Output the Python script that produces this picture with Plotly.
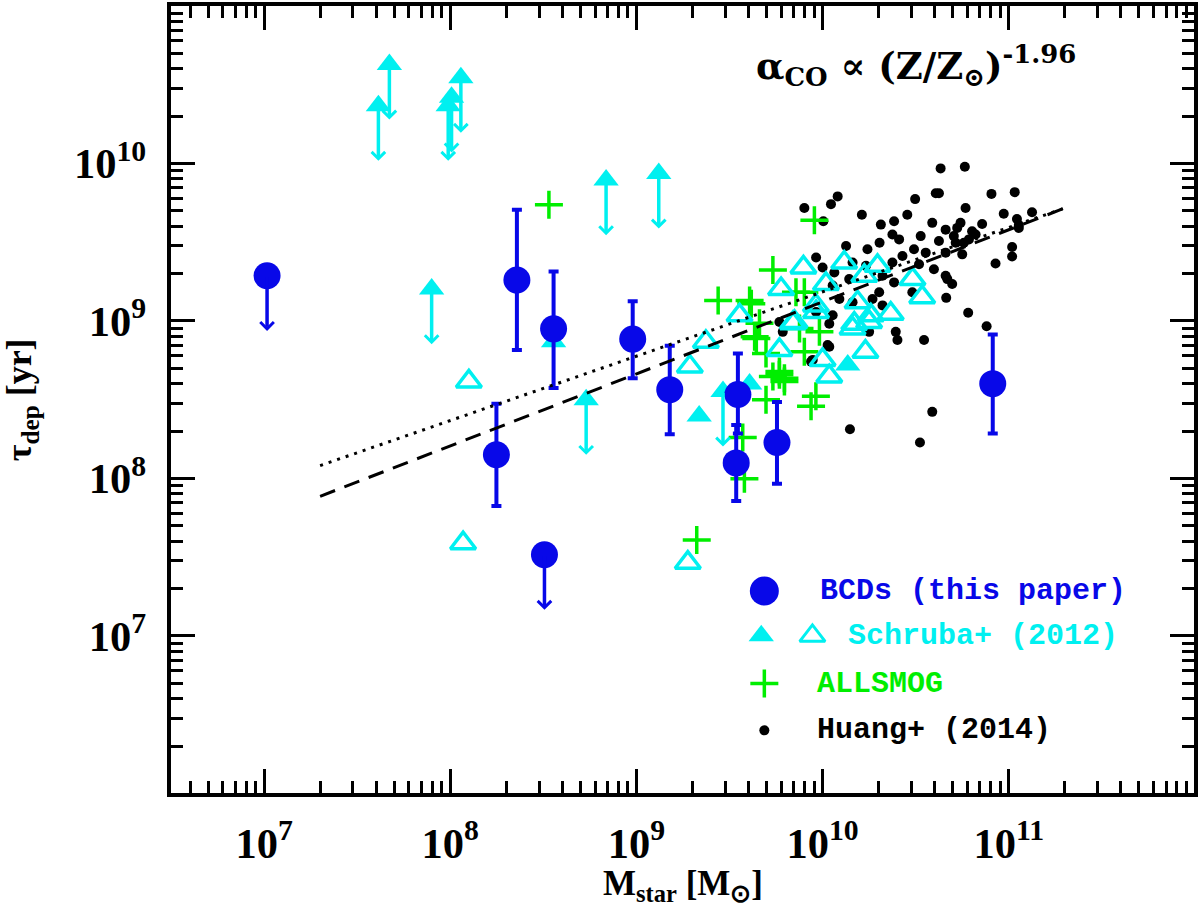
import numpy as np
import plotly.graph_objects as go

# values, stored as log10(M_star / Msun) and log10(tau_dep / yr)
bcd_logm = [8.358, 8.555, 8.980, 8.248, 9.179, 9.545, 9.536, 9.755, 10.914]
bcd_logt = [9.260, 8.950, 8.885, 8.151, 8.564, 8.533, 8.099, 8.228, 8.602]
bcd_logt_hi = [9.706, 9.314, 9.126, 8.474, 8.843, 8.794, 8.340, 8.486, 8.914]
bcd_logt_lo = [8.816, 8.574, 8.637, 7.826, 8.281, 8.286, 7.857, 7.967, 8.285]
bcd_lim_logm = [7.016, 8.506]
bcd_lim_logt = [9.287, 7.516]

sch_lim_logm = [7.614, 7.673, 8.057, 8.007, 7.989, 8.837, 9.120, 7.900, 8.730, 9.465]
sch_lim_logt = [10.367, 10.629, 10.545, 10.420, 10.367, 9.895, 9.937, 9.203, 8.500, 8.553]
sch_det_logm = [9.337, 10.135, 9.608, 8.555]
sch_det_logt = [8.396, 8.720, 8.600, 8.868]
sch_open_logm = [8.100, 8.069, 9.276, 9.287, 9.373, 9.554, 9.777, 9.768, 9.840, 9.897,
                 9.964, 10.000, 10.036, 10.018, 10.116, 10.188, 10.170, 10.250, 10.230,
                 10.295, 10.366, 10.483, 10.535, 10.224, 9.965, 10.259, 9.849, 10.161]
sch_open_logt = [8.616, 7.589, 7.465, 8.711, 8.868, 9.036, 9.203, 8.816, 8.986, 9.340,
                 9.098, 8.753, 8.648, 9.235, 9.371, 9.119, 8.983, 8.994, 8.805,
                 9.350, 9.046, 9.266, 9.151, 9.287, 9.057, 9.036, 8.994, 8.952]

allsmog_logm = [8.530, 9.956, 9.733, 9.608, 9.857, 9.644, 9.902, 9.983, 9.439, 9.617,
                9.661, 9.635, 9.696, 9.768, 9.795, 9.733, 9.795, 9.696, 9.964, 9.938,
                9.571, 9.580, 9.324, 9.902, 9.876, 9.768]
allsmog_logt = [9.738, 9.640, 9.323, 9.130, 9.182, 8.889, 8.805, 8.931, 9.130, 9.109,
                8.986, 8.900, 8.794, 8.658, 8.637, 8.648, 8.616, 8.500, 8.522, 8.459,
                8.260, 7.998, 7.610, 9.182, 8.952, 8.679]

huang_logm = [10.634, 10.764, 10.081, 10.045, 9.902, 10.004, 10.497, 10.608, 10.907, 11.032,
              10.211, 10.313, 10.384, 10.455, 10.768, 10.973, 11.125, 11.054, 10.857, 10.589,
              10.661, 10.723, 10.803, 10.375, 10.411, 10.527, 10.625, 10.715, 10.786, 10.306,
              10.241, 10.126, 10.491, 10.554, 10.661, 11.018, 11.018, 10.929, 10.429, 10.375,
              9.965, 10.000, 10.063, 10.161, 10.233, 10.518, 10.598, 10.670, 10.696, 10.322,
              10.384, 10.143, 10.054, 10.090, 10.161, 10.268, 10.322, 10.304, 10.482, 10.664,
              10.782, 10.881, 10.402, 10.545, 10.036, 10.027, 9.938, 9.786, 9.768, 10.393,
              10.250, 9.965, 10.054, 10.589, 10.147, 10.523, 10.625, 10.741, 10.705, 10.822,
              10.759, 10.750, 10.661, 10.036, 9.947, 11.044, 11.054]
huang_logt = [9.969, 9.979, 9.791, 9.742, 9.717, 9.633, 9.774, 9.811, 9.807, 9.818,
              9.675, 9.612, 9.633, 9.675, 9.717, 9.681, 9.690, 9.610, 9.616, 9.623,
              9.580, 9.591, 9.570, 9.549, 9.518, 9.539, 9.508, 9.497, 9.518, 9.497,
              9.455, 9.476, 9.455, 9.434, 9.434, 9.470, 9.409, 9.365, 9.413, 9.371,
              9.403, 9.340, 9.308, 9.371, 9.350, 9.360, 9.329, 9.266, 9.235, 9.287,
              9.245, 9.266, 9.225, 9.140, 9.119, 9.140, 9.099, 9.182, 9.182, 9.147,
              9.052, 8.967, 8.879, 8.879, 8.983, 8.847, 8.742, 8.931, 8.994, 8.931,
              8.931, 9.057, 9.036, 8.423, 8.313, 8.228, 9.811, 9.623, 9.539, 9.549,
              9.497, 9.423, 9.287, 8.836, 8.753, 9.648, 9.591]

# the two scaling relations
rel_logm = [7.301, 11.301]
rel_dotted_logt = [8.082, 9.717]
rel_dashed_logt = [7.887, 9.717]

BLUE = '#0808E8'
CYAN = '#00F0F0'
GREEN = '#00EE00'
ARROW_DEX = 0.35

def lin(v):
    return 10 ** np.array(v)

fig = go.Figure()

fig.add_scatter(x=lin(huang_logm), y=lin(huang_logt), mode='markers',
                marker=dict(symbol='circle', size=10, color='black'))
fig.add_scatter(x=lin(allsmog_logm), y=lin(allsmog_logt), mode='markers',
                marker=dict(symbol='cross-thin', size=20, line=dict(color=GREEN, width=3.5)))
fig.add_scatter(x=lin(sch_open_logm), y=lin(sch_open_logt), mode='markers',
                marker=dict(symbol='triangle-up-open', size=22, color=CYAN, line=dict(color=CYAN, width=3.5)))
fig.add_scatter(x=lin(sch_det_logm), y=lin(sch_det_logt), mode='markers',
                marker=dict(symbol='triangle-up', size=22, color=CYAN))
fig.add_scatter(x=lin(sch_lim_logm), y=lin(sch_lim_logt), mode='markers',
                marker=dict(symbol='triangle-up', size=22, color=CYAN))

t = lin(bcd_logt)
fig.add_scatter(x=lin(bcd_logm), y=t, mode='markers',
                marker=dict(symbol='circle', size=27, color=BLUE),
                error_y=dict(type='data', symmetric=False,
                             array=lin(bcd_logt_hi) - t, arrayminus=t - lin(bcd_logt_lo),
                             color=BLUE, thickness=4, width=5))
fig.add_scatter(x=lin(bcd_lim_logm), y=lin(bcd_lim_logt), mode='markers',
                marker=dict(symbol='circle', size=27, color=BLUE))

fig.add_scatter(x=lin(rel_logm), y=lin(rel_dotted_logt), mode='lines',
                line=dict(color='black', width=3, dash='3px,6px'))
fig.add_scatter(x=lin(rel_logm), y=lin(rel_dashed_logt), mode='lines',
                line=dict(color='black', width=3, dash='16px,10px'))

# upper-limit arrows (log axes: annotation coordinates are log10)
for xs, ys, col in [(sch_lim_logm, sch_lim_logt, CYAN), (bcd_lim_logm, bcd_lim_logt, BLUE)]:
    for xv, yv in zip(xs, ys):
        fig.add_annotation(x=xv, y=yv - ARROW_DEX, ax=xv, ay=yv, xref='x', yref='y',
                           axref='x', ayref='y', text='', showarrow=True,
                           arrowhead=4, arrowsize=0.75, arrowwidth=3.5, arrowcolor=col)

# legend drawn by hand on an overlay in paper units
fig.add_scatter(x=[0.580], y=[0.2566], xaxis='x2', yaxis='y2', mode='markers',
                marker=dict(symbol='circle', size=29, color=BLUE))
fig.add_scatter(x=[0.577], y=[0.1997], xaxis='x2', yaxis='y2', mode='markers',
                marker=dict(symbol='triangle-up', size=22, color=CYAN))
fig.add_scatter(x=[0.627], y=[0.1997], xaxis='x2', yaxis='y2', mode='markers',
                marker=dict(symbol='triangle-up-open', size=22, color=CYAN, line=dict(color=CYAN, width=3)))
fig.add_scatter(x=[0.580], y=[0.1391], xaxis='x2', yaxis='y2', mode='markers',
                marker=dict(symbol='cross-thin', size=20, line=dict(color=GREEN, width=3.5)))
fig.add_scatter(x=[0.580], y=[0.0796], xaxis='x2', yaxis='y2', mode='markers',
                marker=dict(symbol='circle', size=10, color='black'))

leg_font = dict(family='Liberation Mono', size=30, weight='bold')
for txt, xp, yp, col in [('BCDs (this paper)', 0.632, 0.2566, BLUE),
                         ('Schruba+ (2012)', 0.660, 0.1997, CYAN),
                         ('ALLSMOG', 0.630, 0.1391, GREEN),
                         ('Huang+ (2014)', 0.630, 0.0796, 'black')]:
    fig.add_annotation(x=xp, y=yp, xref='paper', yref='paper', text=txt, showarrow=False,
                       xanchor='left', yanchor='middle', font=dict(color=col, **leg_font))

serif = dict(family='Liberation Serif', color='black', weight='bold')
fig.add_annotation(x=0.570, y=0.924, xref='paper', yref='paper', showarrow=False,
                   xanchor='left', yanchor='middle',
                   text='α<sub>CO</sub> ∝ (Z/Z<sub>⊙</sub>)<sup>-1.96</sup>',
                   font=dict(size=37, family='DejaVu Serif', color='black', weight='bold'))
fig.add_annotation(x=0.5, y=-0.088, xref='paper', yref='paper', showarrow=False,
                   xanchor='center', yanchor='top',
                   text='M<sub>star</sub> [M<sub>⊙</sub>]', font=dict(size=35, **serif))
fig.add_annotation(x=-0.146, y=0.5, xref='paper', yref='paper', showarrow=False,
                   xanchor='center', yanchor='middle', textangle=-90,
                   text='τ<sub>dep</sub> [yr]', font=dict(size=36, **serif))

axis_style = dict(type='log', showline=True, linewidth=4, linecolor='black', mirror='ticks',
                  ticks='inside', ticklen=24, tickwidth=3, tickcolor='black', dtick=1,
                  exponentformat='power', showgrid=False, zeroline=False,
                  tickfont=dict(size=34, **serif),
                  minor=dict(ticks='inside', ticklen=12, tickwidth=3, tickcolor='black',
                             dtick='D1', showgrid=False))

fig.update_layout(
    width=1200, height=914, showlegend=False,
    paper_bgcolor='white', plot_bgcolor='white',
    margin=dict(l=171, r=5, t=2, b=121, pad=0),
    xaxis=dict(range=[6.5, 11.995], ticklabelstandoff=12, **axis_style),
    yaxis=dict(range=[6.003, 11], ticklabelstandoff=14, **axis_style),
    xaxis2=dict(overlaying='x', range=[0, 1], visible=False, anchor='y2'),
    yaxis2=dict(overlaying='y', range=[0, 1], visible=False, anchor='x2'),
)

fig.write_html("out.html", config={'displayModeBar': False},
               post_script="document.body.style.margin='0px';")
